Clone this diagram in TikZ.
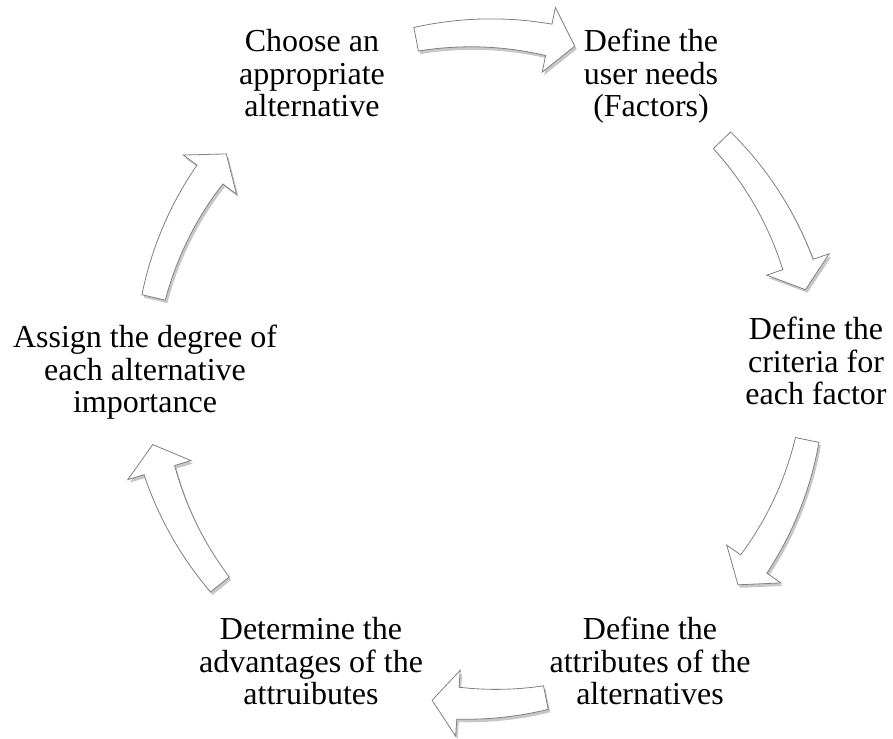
\documentclass[tikz,border=0pt]{standalone}
\usepackage{fontspec}
\setmainfont{Liberation Serif}
\usetikzlibrary{shadows}
\tikzset{
  cyclearrow/.style={draw=black!50, line width=0.8pt, fill=white, line join=miter,
    drop shadow={shadow xshift=2pt, shadow yshift=-3pt, fill=black, opacity=0.22}},
  steplabel/.style={align=center, inner sep=0pt, anchor=base,
    font=\fontsize{32}{32.5}\selectfont}
}
% #1 tail angle, #2 tip angle, #3 radius
\newcommand\cycarrow[3]{%
  \pgfmathsetmacro\ab{#2+4.5}%
  \path[cyclearrow]
    plot[domain=#1:\ab,samples=30] (\x:{#3+12+4*(\x-(#1))/(\ab-(#1))})
    -- (\ab:{#3+33}) -- (#2:{#3}) -- (\ab:{#3-33})
    -- plot[domain=\ab:#1,samples=30] (\x:{#3-12-4*(\x-(#1))/(\ab-(#1))})
    -- cycle;
}
\begin{document}
\begin{tikzpicture}[x=1pt,y=1pt]
\useasboundingbox (0,0) rectangle (893,738);
\begin{scope}[shift={(481,365)}]
  \cycarrow{101}{74}{340}
  \cycarrow{44}{14.4}{335}
  \cycarrow{-11.6}{-39.5}{333}
  \cycarrow{-78.7}{-98.5}{331}
  \cycarrow{-141}{-167.7}{336}
  \cycarrow{167}{139.3}{336}
\end{scope}
\node[steplabel] (n1) at (312,621) {Choose an\\appropriate\\alternative};
\node[steplabel] (n2) at (651,621) {Define the\\user needs\\(Factors)};
\node[steplabel] (n3) at (816,333) {Define the\\criteria for\\each factor};
\node[steplabel] (n4) at (650,33) {Define the\\attributes of the\\alternatives};
\node[steplabel] (n5) at (311,33) {Determine the\\advantages of the\\attruibutes};
\node[steplabel] (n6) at (145,325) {Assign the degree of\\each alternative\\importance};
\end{tikzpicture}
\end{document}
